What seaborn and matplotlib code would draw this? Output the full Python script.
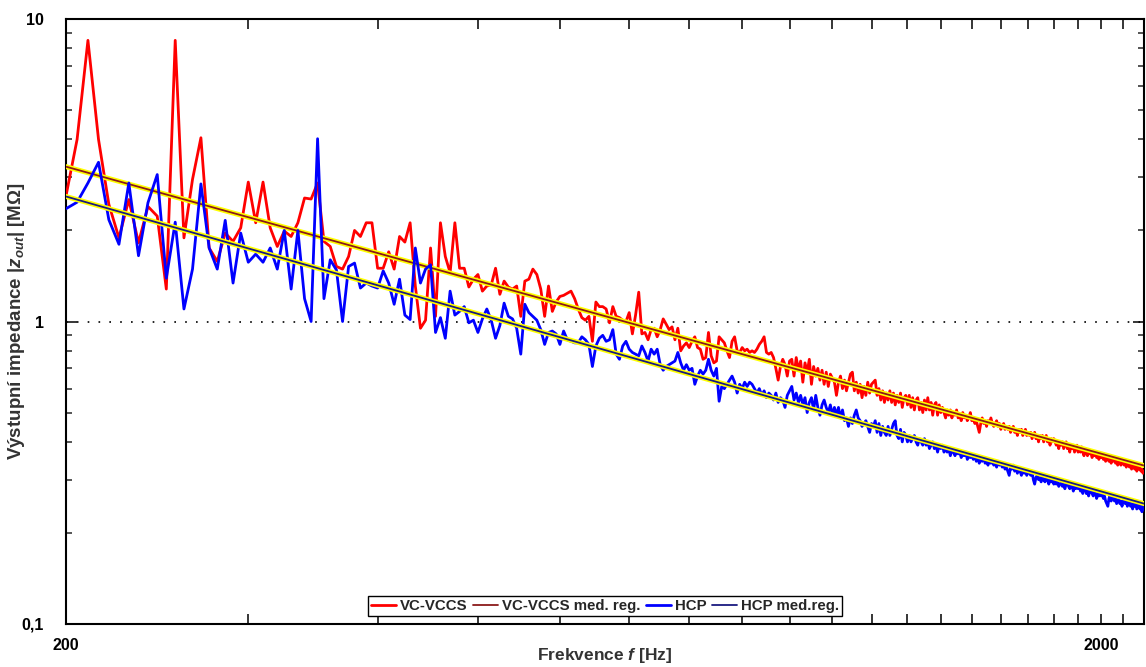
import numpy as np
import matplotlib
matplotlib.use("Agg")
import matplotlib.pyplot as plt
import matplotlib.ticker as mticker
import seaborn as sns

# ---------------- data ----------------
freq_start, freq_stop, freq_step = 200, 2200, 5
freq_hz = np.arange(freq_start, freq_stop + 1, freq_step)

vcvccs_zout = [
    # 200-270
    2.60, 4.00, 8.50, 4.00, 2.44, 1.89, 2.53, 1.82, 2.40, 2.23, 1.28, 8.50, 1.89, 2.95, 4.05,
    # 275-365
    1.75, 1.58, 1.96, 1.84, 2.04, 2.89, 2.12, 2.89, 2.04, 1.77, 1.99, 1.91, 2.12, 2.56, 2.54,
    2.87, 1.84, 1.77, 1.52,
    # 370-490
    1.49, 1.64, 2.00, 1.91, 2.12, 2.12, 1.50, 1.50, 1.70, 1.49, 1.91, 1.83, 2.12, 1.31, 0.95,
    1.01, 1.75, 1.04, 2.12, 1.64, 1.45, 2.12, 1.50, 1.50, 1.30,
    # 495-660
    1.38, 1.43, 1.26, 1.31, 1.32, 1.50, 1.23, 1.36, 1.30, 1.28, 1.31, 1.04, 1.36, 1.38, 1.49,
    1.43, 1.28, 1.04, 1.31, 1.08, 1.16, 1.21, 1.22, 1.24, 1.26, 1.19, 1.10, 1.03, 1.01, 1.04,
    0.86, 1.16, 1.12, 1.12,
    # 665-890
    1.10, 0.99, 1.12, 1.04, 1.03, 1.01, 1.00, 1.07, 0.91, 1.05,
    1.25, 0.91, 0.92, 0.87, 0.94, 0.95, 0.89, 0.94, 1.02, 0.98,
    0.94, 0.96, 0.87, 0.95, 0.80, 0.83, 0.85, 0.82, 0.86, 0.89,
    0.82, 0.81, 0.75, 0.76, 0.92, 0.77, 0.73, 0.74, 0.89, 0.87,
    0.85, 0.80, 0.76, 0.86, 0.89, 0.80,
    # 895-1000
    0.79, 0.82, 0.80, 0.81, 0.79, 0.80, 0.79, 0.81, 0.84, 0.86, 0.89,
    0.79, 0.78, 0.79, 0.76, 0.70, 0.64, 0.71, 0.75, 0.72, 0.66, 0.74,
    # 1005-1100
    0.75, 0.66, 0.76, 0.69, 0.74, 0.63, 0.73, 0.68, 0.75, 0.62,
    0.71, 0.66, 0.70, 0.64, 0.69, 0.62, 0.68, 0.61, 0.67, 0.65,
    # 1105-1200
    0.63, 0.57, 0.63, 0.66, 0.60, 0.64, 0.59, 0.63, 0.67, 0.68,
    0.59, 0.63, 0.58, 0.62, 0.56, 0.61, 0.57, 0.63, 0.58, 0.62,
    # 1205-1300
    0.63, 0.64, 0.57, 0.60, 0.55, 0.59, 0.54, 0.58, 0.55, 0.59,
    0.54, 0.58, 0.53, 0.57, 0.54, 0.58, 0.52, 0.56, 0.57, 0.53,
    # 1305-1400
    0.57, 0.52, 0.56, 0.51, 0.55, 0.56, 0.51, 0.54, 0.50, 0.55,
    0.51, 0.56, 0.51, 0.54, 0.49, 0.53, 0.54, 0.49, 0.53, 0.50,
    # 1405-1500
    0.52, 0.50, 0.48, 0.51, 0.49, 0.51, 0.48, 0.50, 0.49, 0.51,
    0.48, 0.49, 0.47, 0.50, 0.48, 0.49, 0.47, 0.48, 0.50, 0.47,
    # 1505-1600
    0.48, 0.46, 0.47, 0.45, 0.43, 0.46, 0.48, 0.46, 0.47, 0.45,
    0.47, 0.46, 0.48, 0.46, 0.45, 0.46, 0.47, 0.45, 0.46, 0.44,
    # 1605-1700
    0.45, 0.46, 0.44, 0.45, 0.44, 0.45, 0.43, 0.44, 0.45, 0.43,
    0.44, 0.42, 0.44, 0.43, 0.44, 0.42, 0.43, 0.44, 0.42, 0.43,
    # 1705-1800
    0.42, 0.43, 0.41, 0.42, 0.43, 0.41, 0.42, 0.40, 0.42, 0.41,
    0.42, 0.40, 0.41, 0.42, 0.40, 0.41, 0.39, 0.41, 0.40, 0.41,
    # 1805-1900
    0.40, 0.39, 0.40, 0.38, 0.40, 0.39, 0.40, 0.38, 0.39, 0.40,
    0.38, 0.39, 0.37, 0.39, 0.38, 0.39, 0.37, 0.38, 0.39, 0.37,
    # 1905-2000
    0.38, 0.37, 0.385, 0.37, 0.36, 0.375, 0.37, 0.36, 0.375, 0.365,
    0.37, 0.355, 0.365, 0.36, 0.37, 0.355, 0.36, 0.35, 0.365, 0.355,
    # 2005-2100
    0.36, 0.35, 0.355, 0.345, 0.36, 0.35, 0.345, 0.355, 0.34, 0.35,
    0.345, 0.355, 0.34, 0.345, 0.335, 0.345, 0.34, 0.335, 0.345, 0.34,
    # 2105-2200
    0.335, 0.345, 0.33, 0.34, 0.335, 0.33, 0.34, 0.325, 0.335, 0.33,
    0.325, 0.335, 0.32, 0.33, 0.325, 0.33, 0.32, 0.325, 0.315, 0.32,
]

hcp_zout = [
    # 200-270
    2.36, 2.48, 2.87, 3.36, 2.17, 1.80, 2.87, 1.65, 2.47, 3.06, 1.39, 2.13, 1.10, 1.49, 2.85,
    # 275-365
    1.75, 1.49, 2.16, 1.34, 1.96, 1.57, 1.67, 1.57, 1.75, 1.49, 2.00, 1.28, 2.00, 1.19, 1.00,
    4.02, 1.19, 1.60, 1.48,
    # 370-490
    1.00, 1.52, 1.56, 1.29, 1.34, 1.31, 1.29, 1.47, 1.34, 1.14, 1.38, 1.05, 1.015, 1.75, 1.34,
    1.49, 1.54, 0.92, 1.03, 0.88, 1.26, 1.05, 1.08, 1.12, 0.99,
    # 495-660
    1.01, 0.92, 1.02, 1.10, 1.01, 0.88, 0.97, 1.15, 1.04, 1.02, 0.95, 0.78, 1.14, 1.07, 1.04,
    1.01, 0.94, 0.84, 0.92, 0.93, 0.91, 0.84, 0.93, 0.87, 0.86, 0.85, 0.85, 0.89, 0.87, 0.84,
    0.71, 0.83, 0.88, 0.90,
    # 665-890
    0.86, 0.87, 0.94, 0.78, 0.75, 0.83, 0.86, 0.81, 0.79, 0.78,
    0.77, 0.83, 0.79, 0.74, 0.81, 0.78, 0.81, 0.72, 0.69, 0.71,
    0.72, 0.73, 0.74, 0.79, 0.73, 0.69, 0.72, 0.69, 0.70, 0.62,
    0.66, 0.69, 0.67, 0.69, 0.75, 0.69, 0.66, 0.70, 0.545, 0.61,
    0.60, 0.62, 0.64, 0.66, 0.63, 0.58,
    # 895-1000
    0.62, 0.60, 0.63, 0.61, 0.63, 0.62, 0.60, 0.58, 0.60, 0.57, 0.59,
    0.56, 0.58, 0.57, 0.55, 0.58, 0.54, 0.56, 0.55, 0.52, 0.57, 0.59,
    # 1005-1100
    0.61, 0.55, 0.58, 0.54, 0.57, 0.53, 0.56, 0.50, 0.54, 0.56,
    0.51, 0.57, 0.52, 0.49, 0.53, 0.55, 0.52, 0.50, 0.53, 0.49,
    # 1105-1200
    0.52, 0.49, 0.52, 0.48, 0.51, 0.47, 0.48, 0.45, 0.48, 0.46,
    0.49, 0.51, 0.48, 0.47, 0.45, 0.46, 0.47, 0.45, 0.43, 0.46,
    # 1205-1300
    0.45, 0.47, 0.43, 0.46, 0.42, 0.45, 0.43, 0.42, 0.45, 0.42,
    0.44, 0.46, 0.47, 0.42, 0.41, 0.44, 0.40, 0.43, 0.42, 0.40,
    # 1305-1400
    0.42, 0.40, 0.41, 0.42, 0.40, 0.39, 0.41, 0.40, 0.39, 0.41,
    0.39, 0.40, 0.38, 0.39, 0.40, 0.38, 0.39, 0.37, 0.39, 0.38,
    # 1405-1500
    0.39, 0.37, 0.38, 0.37, 0.38, 0.36, 0.375, 0.37, 0.36, 0.375,
    0.365, 0.37, 0.355, 0.365, 0.36, 0.37, 0.35, 0.36, 0.355, 0.36,
    # 1505-1600
    0.35, 0.36, 0.345, 0.355, 0.34, 0.35, 0.345, 0.355, 0.34, 0.345,
    0.335, 0.35, 0.34, 0.345, 0.335, 0.34, 0.33, 0.345, 0.335, 0.34,
    # 1605-1700
    0.33, 0.335, 0.325, 0.33, 0.32, 0.31, 0.33, 0.325, 0.335, 0.32,
    0.33, 0.315, 0.325, 0.32, 0.31, 0.325, 0.315, 0.32, 0.31, 0.32,
    # 1705-1800
    0.315, 0.31, 0.32, 0.30, 0.29, 0.305, 0.31, 0.30, 0.305, 0.295,
    0.31, 0.30, 0.295, 0.305, 0.30, 0.29, 0.30, 0.295, 0.30, 0.29,
    # 1805-1900
    0.30, 0.29, 0.295, 0.285, 0.29, 0.295, 0.285, 0.29, 0.28, 0.29,
    0.295, 0.285, 0.28, 0.29, 0.285, 0.275, 0.285, 0.28, 0.29, 0.28,
    # 1905-2000
    0.285, 0.275, 0.28, 0.27, 0.28, 0.285, 0.27, 0.275, 0.265, 0.275,
    0.28, 0.27, 0.265, 0.275, 0.27, 0.26, 0.27, 0.265, 0.275, 0.265,
    # 2005-2100
    0.27, 0.26, 0.265, 0.255, 0.25, 0.245, 0.26, 0.265, 0.255, 0.26,
    0.265, 0.255, 0.26, 0.25, 0.255, 0.26, 0.25, 0.255, 0.245, 0.255,
    # 2105-2200
    0.26, 0.25, 0.255, 0.245, 0.25, 0.255, 0.245, 0.25, 0.24, 0.25,
    0.245, 0.25, 0.24, 0.245, 0.25, 0.24, 0.245, 0.235, 0.245, 0.24,
]

assert len(vcvccs_zout) == len(freq_hz), len(vcvccs_zout)
assert len(hcp_zout) == len(freq_hz), len(hcp_zout)

# median regression lines (values at the ends of the frequency range)
reg_freq = [200, 2200]
vcvccs_reg = [3.25, 0.334]
hcp_reg = [2.59, 0.25]

series_names = ["VC-VCCS", "VC-VCCS med. reg.", "HCP", "HCP med.reg."]
xtick_values = [200, 300, 400, 500, 600, 700, 800, 900, 1000, 1100, 1200, 1300,
                1400, 1500, 1600, 1700, 1800, 1900, 2000, 2100]
xtick_labels = ["200"] + [""] * 17 + ["2000", ""]
ytick_values = [0.1, 1, 10]
ytick_labels = ["0,1", "1", "10"]

# ---------------- style ----------------
sns.set_style("white")
plt.rcParams["font.family"] = ["Liberation Sans", "DejaVu Sans"]
plt.rcParams["font.weight"] = "bold"
plt.rcParams["axes.labelweight"] = "bold"
plt.rcParams["mathtext.fontset"] = "custom"
plt.rcParams["mathtext.it"] = "Liberation Sans:italic"
plt.rcParams["mathtext.rm"] = "Liberation Sans"
plt.rcParams["mathtext.bf"] = "Liberation Sans:bold"
plt.rcParams["mathtext.bfit"] = "Liberation Sans:italic:bold"

fig = plt.figure(figsize=(11.46, 6.67), dpi=100)
ax = fig.add_axes([66 / 1146, 43 / 667, 1078 / 1146, 605 / 667])

c_red, c_brown, c_blue, c_navy = "#ff0000", "#8b1a1a", "#0000ff", "#1a1a80"

sns.lineplot(x=freq_hz, y=vcvccs_zout, ax=ax, color=c_red, lw=2.0,
             estimator=None, label=series_names[0], zorder=3)
sns.lineplot(x=reg_freq, y=vcvccs_reg, ax=ax, color="#ffff00", lw=3.6,
             estimator=None, legend=False, zorder=4)
sns.lineplot(x=reg_freq, y=vcvccs_reg, ax=ax, color=c_brown, lw=1.3,
             estimator=None, label=series_names[1], zorder=4)
sns.lineplot(x=freq_hz, y=hcp_zout, ax=ax, color=c_blue, lw=2.0,
             estimator=None, label=series_names[2], zorder=5)
sns.lineplot(x=reg_freq, y=hcp_reg, ax=ax, color="#ffff00", lw=3.6,
             estimator=None, legend=False, zorder=6)
sns.lineplot(x=reg_freq, y=hcp_reg, ax=ax, color=c_navy, lw=1.3,
             estimator=None, label=series_names[3], zorder=6)

ax.set_xscale("log")
ax.set_yscale("log")
ax.set_xlim(200, 2200)
ax.set_ylim(0.1, 10)

ax.xaxis.set_major_locator(mticker.FixedLocator(xtick_values))
ax.xaxis.set_major_formatter(mticker.FixedFormatter(xtick_labels))
ax.xaxis.set_minor_locator(mticker.NullLocator())
ax.yaxis.set_major_locator(mticker.FixedLocator(ytick_values))
ax.yaxis.set_major_formatter(mticker.FixedFormatter(ytick_labels))
ax.yaxis.set_minor_locator(mticker.LogLocator(base=10, subs=np.arange(2, 10)))
ax.yaxis.set_minor_formatter(mticker.NullFormatter())

for s in ax.spines.values():
    s.set_visible(True)
    s.set_linewidth(1.5)
    s.set_color("black")

ax.tick_params(axis="x", which="major", direction="in", top=True, bottom=True,
               length=7, width=1.1, pad=10, labelsize=11.5, colors="black")
ax.tick_params(axis="y", which="major", direction="in", left=True, right=True,
               length=8, width=1.1, pad=16, labelsize=11.5, colors="black")
ax.tick_params(axis="y", which="minor", direction="in", left=True, right=True,
               length=4.3, width=1.1)
for lbl in ax.get_xticklabels() + ax.get_yticklabels():
    lbl.set_fontweight("bold")

ax.grid(False)
ax.yaxis.grid(True, which="major", color="black", linestyle=(0, (1, 5.5)), lw=1.2)

ax.set_xlabel(r"Frekvence $\mathbfit{f}$ [Hz]", fontsize=12.5, color="#333333")
ax.set_ylabel(r"Výstupní impedance |$z_{out}$| [MΩ]", fontsize=13.5, color="#333333")
ax.xaxis.set_label_coords(0.5, -0.037)
ax.yaxis.set_label_coords(-0.036, 0.5)

leg = ax.legend(loc="lower center", bbox_to_anchor=(0.5, 0.013), ncol=4,
                frameon=True, fancybox=False, edgecolor="black", framealpha=1,
                prop={"weight": "bold", "size": 10.8}, handlelength=1.7,
                handletextpad=0.25, columnspacing=0.35, borderpad=0.2,
                borderaxespad=0)
leg.get_frame().set_linewidth(1.0)

fig.savefig("out.png", dpi=100)
